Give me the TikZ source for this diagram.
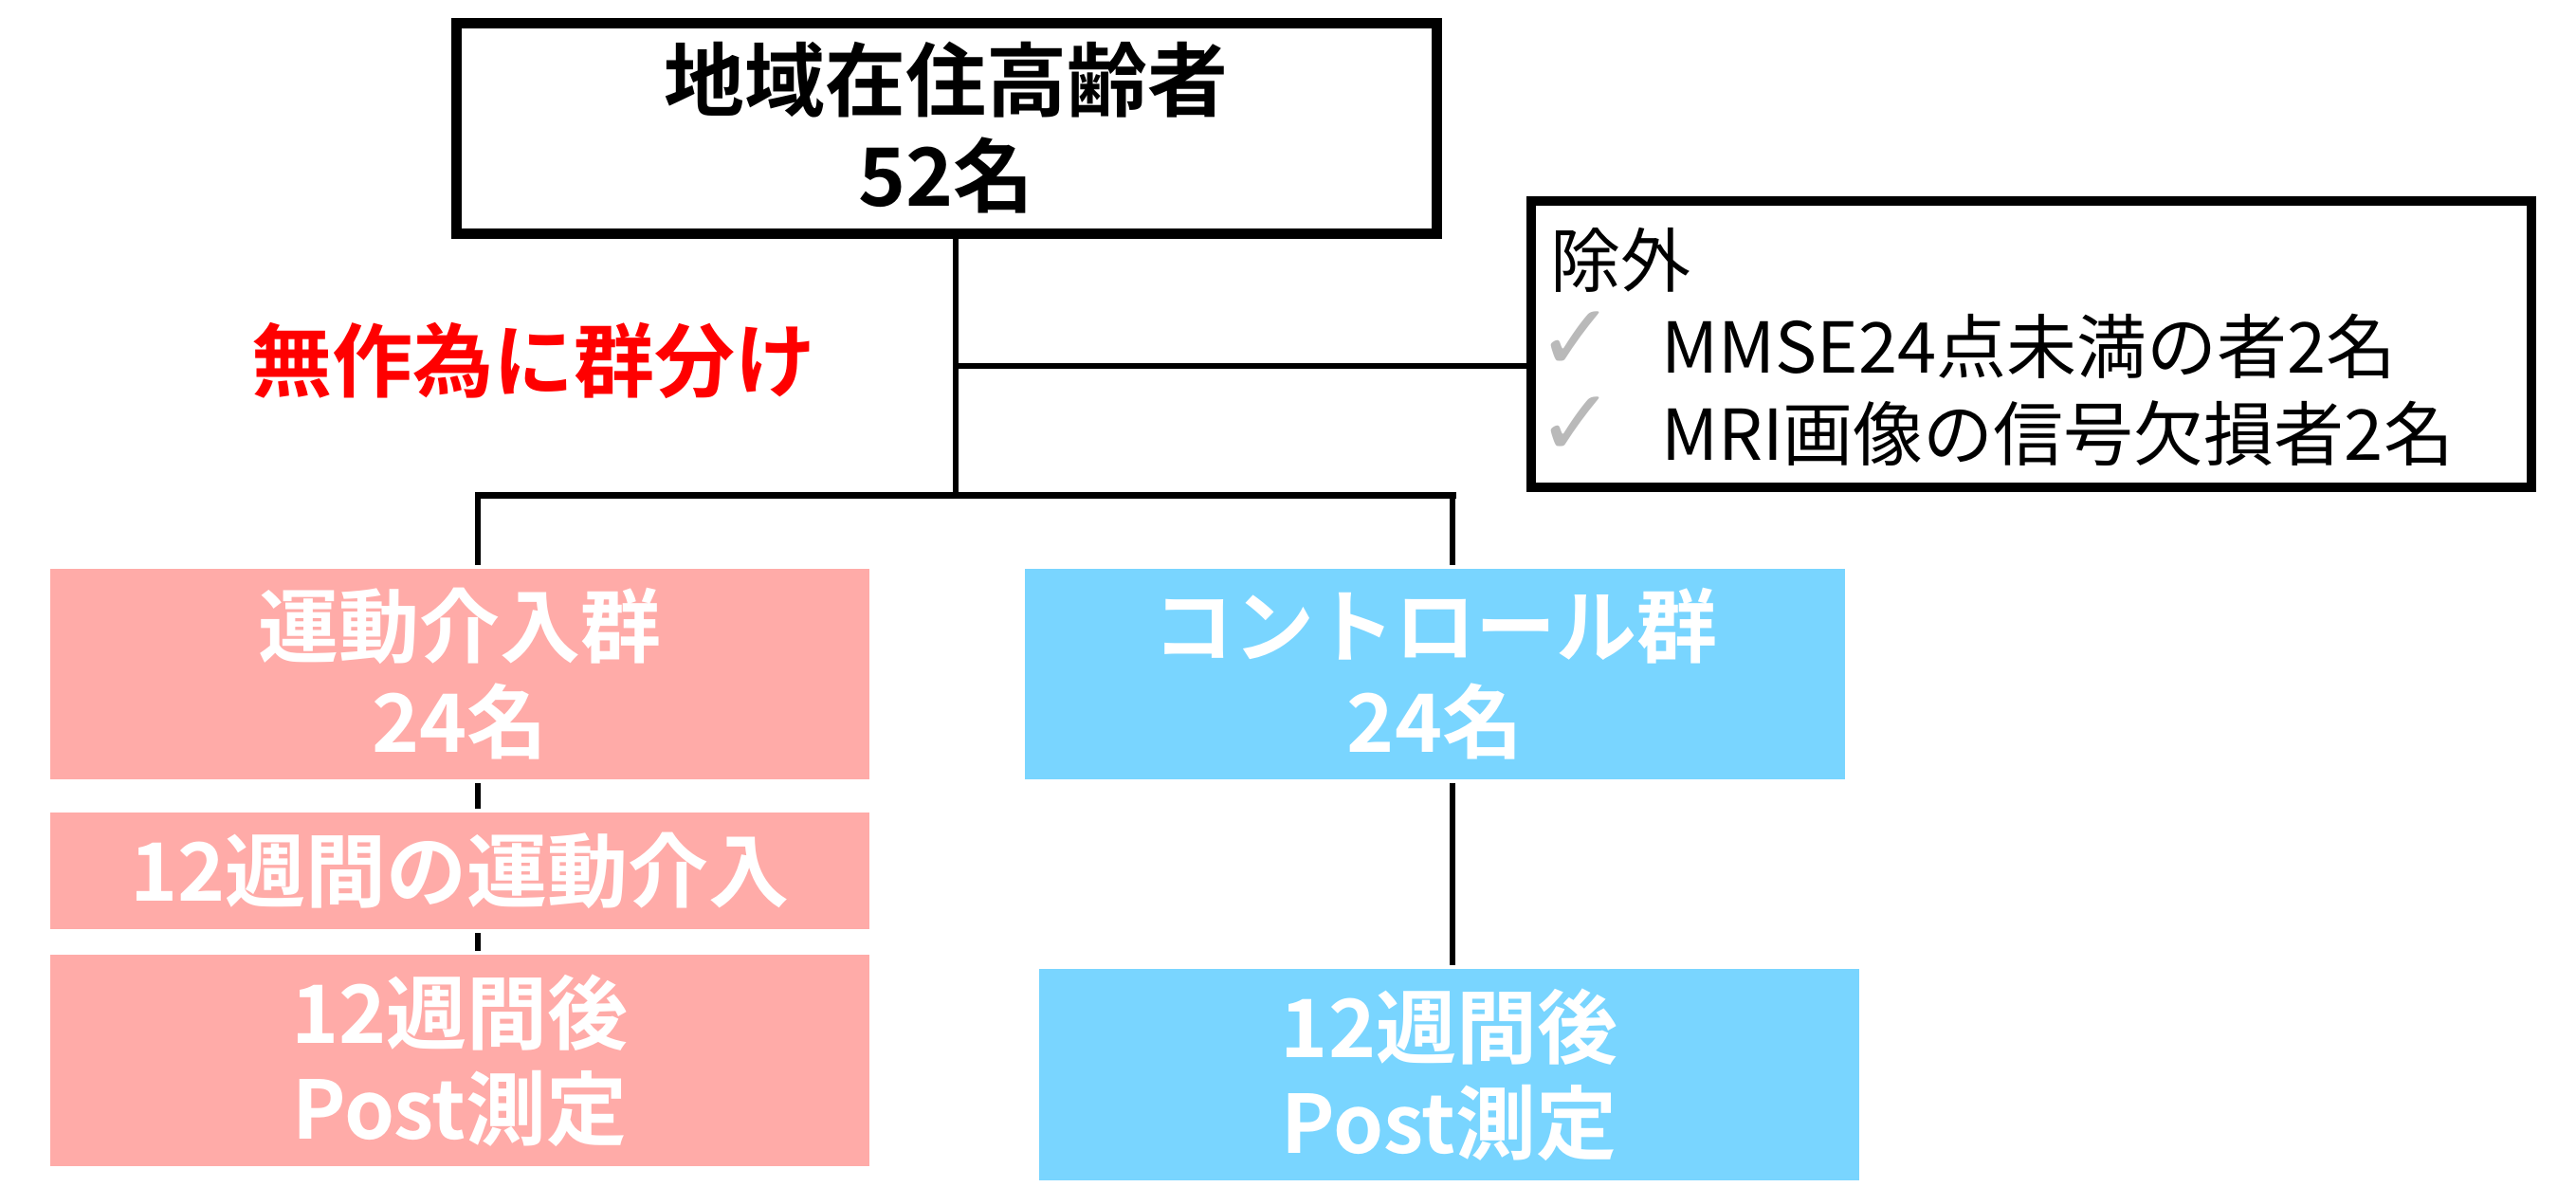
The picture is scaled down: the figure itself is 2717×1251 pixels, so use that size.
\documentclass[tikz,border=0pt]{standalone}
\usepackage{fontspec}
\setmainfont{Noto Sans CJK JP}[BoldFont={Noto Sans CJK JP Bold}]
\newfontfamily\symfont{DejaVu Sans}
\definecolor{boxpink}{RGB}{255,171,168}
\definecolor{boxblue}{RGB}{121,213,255}
\definecolor{checkgray}{RGB}{185,185,185}
\begin{document}
\begin{tikzpicture}[x=1pt,y=-1pt,
  bigtext/.style={font=\fontsize{85}{101}\selectfont\bfseries, align=center, inner sep=0pt},
  fillbox/.style={bigtext, text=white, draw=none, minimum width=864pt, minimum height=222pt},
  extext/.style={font=\fontsize{74}{88}\selectfont, anchor=base west, inner sep=0pt},
  checkmark/.style={text=checkgray, font=\symfont\fontsize{98}{98}\selectfont, inner sep=0pt},
  conn/.style={line width=6pt, shorten <=4pt, shorten >=4pt}]
\useasboundingbox (0,0) rectangle (2717,1251);
% top box
\node[draw, line width=11pt, minimum width=1034pt, minimum height=222pt, bigtext] (top) at (998,135) {地域在住高齢者\\52名};
% randomisation label
\node[bigtext, text=red] (rand) at (563,380) {無作為に群分け};
% exclusion box
\node[draw, line width=10pt, minimum width=1055pt, minimum height=302pt, inner sep=0pt] (ex) at (2142.5,363) {};
\node[extext] (exh) at (1635,302) {除外};
\node[checkmark] (ck1) at (1663,360) {✓};
\node[checkmark] (ck2) at (1663,450) {✓};
\node[extext] (ex1) at (1752,393) {MMSE24点未満の者2名};
\node[extext] (ex2) at (1752,485) {MRI画像の信号欠損者2名};
% groups
\node[fillbox, fill=boxpink] (p1) at (485,711) {運動介入群\\24名};
\node[fillbox, fill=boxpink, minimum height=123pt] (p2) at (485,918.5) {12週間の運動介入};
\node[fillbox, fill=boxpink, minimum height=223pt] (p3) at (485,1118.5) {12週間後\\Post測定};
\node[fillbox, fill=boxblue, minimum width=865pt] (c1) at (1513.5,711) {コントロール群\\24名};
\node[fillbox, fill=boxblue, minimum width=865pt, minimum height=223pt] (c2) at (1528.5,1133.5) {12週間後\\Post測定};
% junctions
\coordinate (jm) at (1008,522);
\coordinate (jx) at (1008,386);
\coordinate (jl) at (504,522);
\coordinate (jr) at (1532,522);
% connectors
\draw[line width=6pt] (top.south -| jm) -- (jm);
\draw[line width=6pt] (jx) -- (jx -| ex.west);
\draw[line width=7pt, line cap=rect] (jl) -- (jr);
\draw[line width=6pt, shorten >=4pt] (jl) -- (jl |- p1.north);
\draw[line width=6pt, shorten >=4pt] (jr) -- (jr |- c1.north);
\draw[conn] (jl |- p1.south) -- (jl |- p2.north);
\draw[conn] (jl |- p2.south) -- (jl |- p3.north);
\draw[conn] (jr |- c1.south) -- (jr |- c2.north);
\end{tikzpicture}
\end{document}
